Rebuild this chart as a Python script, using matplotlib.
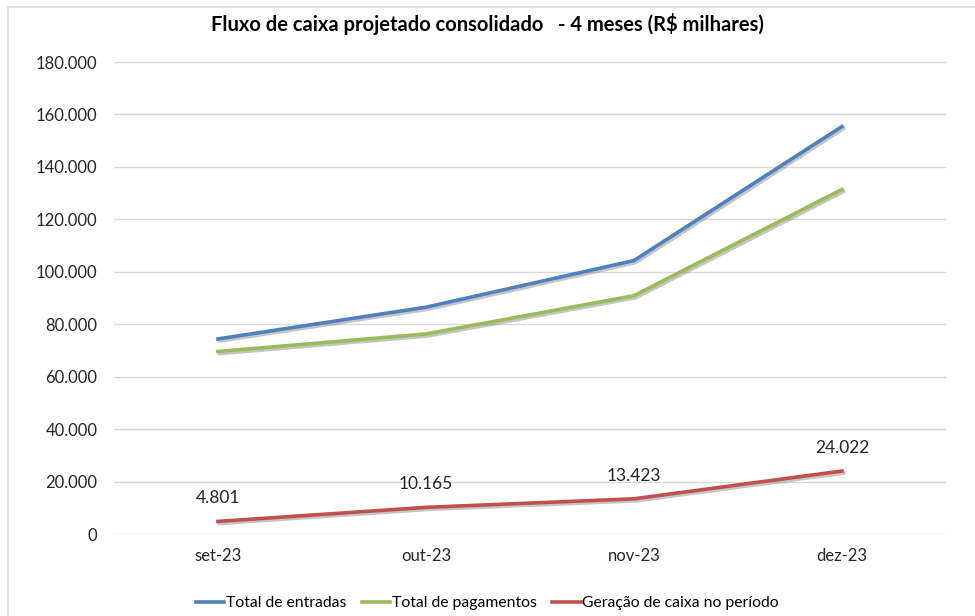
import matplotlib.pyplot as plt
import matplotlib.patheffects as pe
from matplotlib.patches import Rectangle
from matplotlib.ticker import FuncFormatter

# dados (R$ milhares)
meses = ['set-23', 'out-23', 'nov-23', 'dez-23']
entradas = [74400, 86500, 104300, 155400]
pagamentos = [69600, 76300, 90900, 131400]
geracao = [4801, 10165, 13423, 24022]

plt.rcParams['font.family'] = ['Lato', 'DejaVu Sans']

fig = plt.figure(figsize=(9.75, 6.16), dpi=100)
ax = fig.add_axes([0.1169, 0.1331, 0.8533, 0.7662])

# borda do grafico
fig.patches.append(Rectangle((8 / 975, -0.01), 1.0, 1 - 7 / 616 + 0.01,
                             transform=fig.transFigure, fill=False,
                             edgecolor='#d9d9d9', linewidth=1.2))

x = range(len(meses))
sombra = [pe.SimpleLineShadow(offset=(1.2, -1.5), shadow_color='gray', alpha=0.45), pe.Normal()]
ax.plot(x, entradas, color='#4f81bd', lw=2.6, label='Total de entradas', path_effects=sombra)
ax.plot(x, pagamentos, color='#9bbb59', lw=2.6, label='Total de pagamentos', path_effects=sombra)
ax.plot(x, geracao, color='#c0504d', lw=2.6, label='Geração de caixa no período', path_effects=sombra)

for i, v in enumerate(geracao):
    ax.annotate(f'{v:,}'.replace(',', '.'), (i, v), xytext=(0, 11), textcoords='offset points',
                ha='center', va='bottom', fontsize=12.5, color='#262626')

ax.set_xlim(-0.5, 3.5)
ax.set_ylim(0, 180000)
ax.set_yticks(range(0, 180001, 20000))
ax.yaxis.set_major_formatter(FuncFormatter(lambda v, p: f'{int(v):,}'.replace(',', '.')))
ax.set_xticks(list(x))
ax.set_xticklabels(meses)
ax.tick_params(length=0, labelsize=12, colors='#262626', pad=10)
ax.tick_params(axis='y', pad=12)
ax.grid(axis='y', color='#d9d9d9', lw=1)
ax.set_axisbelow(True)
for s in ax.spines.values():
    s.set_visible(False)

fig.text(0.5, 1 - 24 / 616, 'Fluxo de caixa projetado consolidado   - 4 meses (R$ milhares)',
         ha='center', va='center', fontsize=14.5, fontweight='bold', color='#000000')

leg = ax.legend(loc='center', bbox_to_anchor=(0.5, 1 - 603 / 616), bbox_transform=fig.transFigure,
                ncol=3, frameon=False, fontsize=11.3, handlelength=1.8, handletextpad=0.1,
                columnspacing=1.0)
for h in leg.get_lines():
    h.set_path_effects([])

fig.savefig('out.png', dpi=100)
